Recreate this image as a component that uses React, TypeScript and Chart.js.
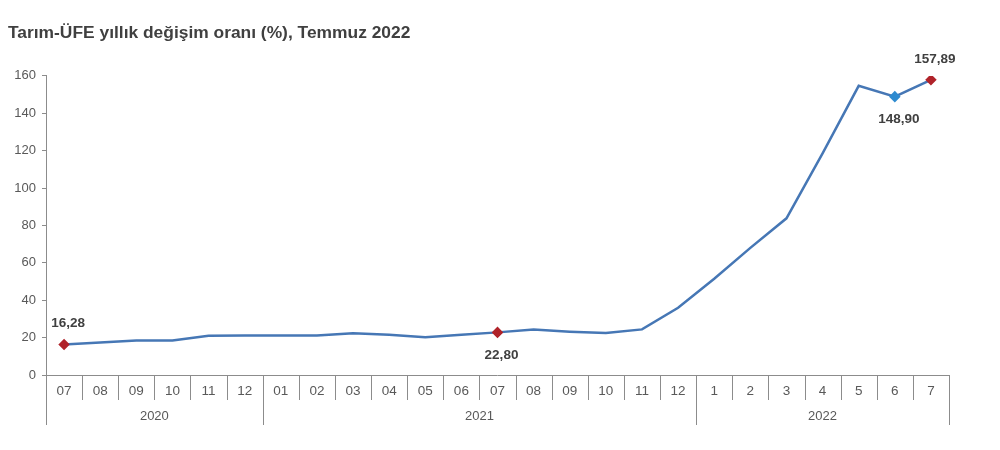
import React, { useEffect, useRef } from "react";
import { Chart, registerables } from "chart.js";

Chart.register(...registerables);

const titleText = "Tarım-ÜFE yıllık değişim oranı (%), Temmuz 2022";
const monthLabels = ["07","08","09","10","11","12","01","02","03","04","05","06","07","08","09","10","11","12","1","2","3","4","5","6","7"];
const yearLabels = ["2020", "2021", "2022"];
const yearGroupSizes = [6, 12, 7];
const seriesValues = [16.28, 17.4, 18.4, 18.4, 21.0, 21.1, 21.1, 21.1, 22.3, 21.5, 20.2, 21.5, 22.80, 24.3, 23.2, 22.5, 24.4, 36.0, 51.5, 68.0, 83.8, 118.5, 154.7, 148.90, 157.89];
const yTicks = [0, 20, 40, 60, 80, 100, 120, 140, 160];
// annotated points: index, position
const labelIndices = [0, 12, 23, 24];
const labelPlacement = ["above", "below", "below", "above"];
const redPoints = [0, 12, 24];
const bluePoints = [23];

const FONT = "'Liberation Sans', Arial, sans-serif";
const fmt = (v: number) => v.toFixed(2).replace(".", ",");

const axisPlugin = {
  id: "groupAxis",
  afterDraw(chart: any) {
    const { ctx } = chart;
    const xs = chart.scales.x;
    const bottom = chart.chartArea.bottom;
    const n = monthLabels.length;
    const half = (xs.getPixelForValue(1) - xs.getPixelForValue(0)) / 2;
    const boundaries = new Set<number>([0, n]);
    let acc = 0;
    yearGroupSizes.forEach((s) => { acc += s; boundaries.add(acc); });
    ctx.save();
    ctx.strokeStyle = "#8c8c8c";
    ctx.lineWidth = 1;
    for (let i = 0; i <= n; i++) {
      const x = Math.round(xs.getPixelForValue(i) - half) + 0.5;
      const len = boundaries.has(i) ? 50 : 25;
      ctx.beginPath();
      ctx.moveTo(x, bottom);
      ctx.lineTo(x, bottom + len);
      ctx.stroke();
    }
    ctx.beginPath();
    ctx.moveTo(xs.getPixelForValue(0) - half, bottom + 0.5);
    ctx.lineTo(xs.getPixelForValue(n - 1) + half, bottom + 0.5);
    ctx.stroke();
    ctx.fillStyle = "#595959";
    ctx.font = `13px ${FONT}`;
    ctx.textAlign = "center";
    ctx.textBaseline = "middle";
    let start = 0;
    yearGroupSizes.forEach((s, gi) => {
      const x0 = xs.getPixelForValue(start) - half;
      const x1 = xs.getPixelForValue(start + s - 1) + half;
      ctx.fillText(yearLabels[gi], (x0 + x1) / 2, bottom + 41);
      start += s;
    });
    ctx.restore();
  },
  afterDatasetsDraw(chart: any) {
    const { ctx } = chart;
    const meta = chart.getDatasetMeta(0);
    ctx.save();
    ctx.fillStyle = "#404040";
    ctx.font = `bold 13.5px ${FONT}`;
    ctx.textAlign = "center";
    ctx.textBaseline = "middle";
    labelIndices.forEach((idx, k) => {
      const pt = meta.data[idx];
      const dy = labelPlacement[k] === "above" ? -21 : 23;
      ctx.fillText(fmt(seriesValues[idx]), pt.x + 4, pt.y + dy);
    });
    ctx.restore();
  },
};

export default function App() {
  const ref = useRef<HTMLCanvasElement | null>(null);
  useEffect(() => {
    if (!ref.current) return;
    const radius = seriesValues.map((_, i) => (redPoints.includes(i) || bluePoints.includes(i) ? 4 : 0));
    const colors = seriesValues.map((_, i) => (redPoints.includes(i) ? "#b0232a" : bluePoints.includes(i) ? "#2e8bd0" : "#4a7ebb"));
    const chart = new Chart(ref.current, {
      type: "line",
      data: {
        labels: monthLabels,
        datasets: [
          {
            data: seriesValues,
            borderColor: "#4677b5",
            borderWidth: 2.5,
            pointStyle: "rectRot",
            pointRadius: radius,
            pointBackgroundColor: colors,
            pointBorderColor: colors,
            tension: 0,
          },
        ],
      },
      options: {
        animation: false,
        responsive: false,
        layout: { padding: { top: 0, right: 43, bottom: 0, left: 0 } },
        plugins: {
          legend: { display: false },
          tooltip: { enabled: false },
          title: {
            display: true,
            text: titleText,
            align: "start",
            color: "#404040",
            font: { family: FONT, size: 17.4, weight: "bold" },
            padding: { top: 15, bottom: 32 },
          },
        },
        scales: {
          x: {
            offset: true,
            grid: { display: false, drawTicks: false },
            border: { display: false },
            ticks: {
              color: "#595959",
              font: { family: FONT, size: 13.5 },
              padding: 8,
              maxRotation: 0,
              autoSkip: false,
            },
            afterFit: (s: any) => { s.height = 67; },
          },
          y: {
            min: 0,
            max: 160,
            afterBuildTicks: (s: any) => { s.ticks = yTicks.map((v) => ({ value: v })); },
            grid: { display: true, drawOnChartArea: false, drawTicks: true, tickLength: 4, color: "#8c8c8c" },
            border: { display: true, color: "#8c8c8c" },
            ticks: {
              color: "#595959",
              font: { family: FONT, size: 13 },
              padding: 6,
            },
            afterFit: (s: any) => { s.width = 38; },
          },
        },
      },
      plugins: [axisPlugin],
    });
    return () => chart.destroy();
  }, []);
  return (
    <div style={{ width: 984, height: 434 }}>
      <canvas ref={ref} width={984} height={434} />
    </div>
  );
}
